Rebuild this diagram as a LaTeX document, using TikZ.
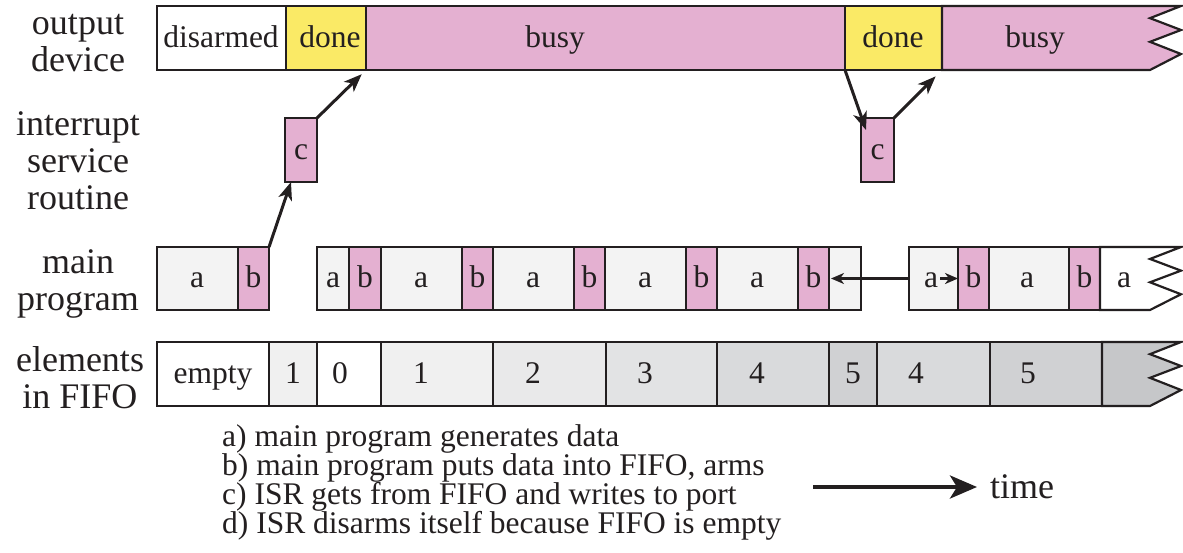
\documentclass[tikz,border=0pt]{standalone}
\usepackage{fontspec}
\setmainfont{Liberation Serif}
\usetikzlibrary{arrows.meta,calc}

\definecolor{ink}{RGB}{35,31,32}
\definecolor{busypink}{RGB}{228,176,209}
\definecolor{doneyellow}{RGB}{250,234,102}
\definecolor{runa}{RGB}{243,243,243}
\definecolor{fifoA}{RGB}{240,240,240}
\definecolor{fifoB}{RGB}{233,233,234}
\definecolor{fifoC}{RGB}{226,227,228}
\definecolor{fifoD}{RGB}{217,218,220}
\definecolor{fifoE}{RGB}{208,209,211}
\definecolor{fifoF}{RGB}{198,199,201}

% rectangular time-slot: name, x1, x2, y1, y2, fill, text, text x
\newcommand{\tcell}[8]{%
  \node[cell, fill=#6, minimum width={(#3-#2)*1pt}, minimum height={(#5-#4)*1pt}] (#1) at (#2,#4) {};
  \node[celltext] (#1-t) at (#8,{(#4+#5)/2}) {#7};}

% open-ended slot with a torn (zigzag) right edge: name, x1, y1, y2, fill, text, text x
\newcommand{\zcell}[7]{%
  \filldraw[edge, fill=#5] (#2,#3) -- (1181,#3) -- (1150,{#3+0.19*(#4-#3)})
    -- (1181,{#3+0.375*(#4-#3)}) -- (1150,{#3+0.56*(#4-#3)})
    -- (1181,{#3+0.75*(#4-#3)}) -- (1150,#4) -- (#2,#4) -- cycle;
  \node[celltext] (#1-t) at (#7,{(#3+#4)/2}) {#6};}

\begin{document}
\begin{tikzpicture}[x=1pt,y=-1pt,
  edge/.style={draw=ink, line width=2.2pt, line join=miter},
  cell/.style={edge, inner sep=0pt, outer sep=0pt, anchor=north west},
  celltext/.style={inner sep=0pt, text=ink, text height=22pt, text depth=4pt,
    font=\fontsize{31.5}{31.5}\selectfont},
  rowlabel/.style={align=center, inner sep=0pt, text=ink,
    font=\fontsize{36}{37}\selectfont},
  legend/.style={anchor=base west, inner sep=0pt, text=ink,
    font=\fontsize{31.5}{29}\selectfont},
  conn/.style={draw=ink, line width=3pt, -{Stealth[length=18pt,width=14pt,inset=5pt]}},
  thin conn/.style={draw=ink, line width=2.4pt, -{Stealth[length=13pt,width=11pt,inset=4pt]}}
]
\useasboundingbox (0,0) rectangle (1183,552);

% row labels
\node[rowlabel] (l-out)  at (78,43)    {output\\device};
\node[rowlabel] (l-isr)  at (78,161)   {interrupt\\service\\routine};
\node[rowlabel] (l-main) at (78,284)   {main\\program};
\node[rowlabel] (l-fifo) at (80,378)   {elements\\in FIFO};

% output device
\tcell{dis}{157}{286}{6}{70}{white}{disarmed}{221}
\tcell{done1}{286}{366}{6}{70}{doneyellow}{done}{330}
\tcell{busy1}{366}{845}{6}{70}{busypink}{busy}{555}
\tcell{done2}{845}{942}{6}{70}{doneyellow}{done}{893}
\zcell{busy2}{942}{6}{70}{busypink}{busy}{1035}

% interrupt service routine
\tcell{c1}{285}{317}{118}{182}{busypink}{c}{301}
\tcell{c2}{861}{894}{118}{182}{busypink}{c}{877.5}

% main program
\tcell{a1}{157}{238}{247}{310}{runa}{a}{197}
\tcell{b1}{238}{269}{247}{310}{busypink}{b}{253.5}
\tcell{a2}{317}{349}{247}{310}{runa}{a}{333}
\tcell{b2}{349}{381}{247}{310}{busypink}{b}{365}
\tcell{a3}{381}{462}{247}{310}{runa}{a}{421}
\tcell{b3}{462}{493}{247}{310}{busypink}{b}{477.5}
\tcell{a4}{493}{574}{247}{310}{runa}{a}{533}
\tcell{b4}{574}{605}{247}{310}{busypink}{b}{589.5}
\tcell{a5}{605}{686}{247}{310}{runa}{a}{645}
\tcell{b5}{686}{717}{247}{310}{busypink}{b}{701.5}
\tcell{a6}{717}{798}{247}{310}{runa}{a}{757}
\tcell{b6}{798}{829}{247}{310}{busypink}{b}{813.5}
\tcell{a7}{829}{861}{247}{310}{runa}{}{845}
\tcell{a8}{909}{958}{247}{310}{runa}{a}{931}
\tcell{b7}{958}{989}{247}{310}{busypink}{b}{973.5}
\tcell{a9}{989}{1069}{247}{310}{runa}{a}{1027}
\tcell{b8}{1069}{1100}{247}{310}{busypink}{b}{1084.5}
\zcell{a10}{1100}{247}{310}{white}{a}{1124}

% elements in FIFO
\tcell{f1}{157}{269}{342}{406}{white}{empty}{213}
\tcell{f2}{269}{317}{342}{406}{fifoA}{1}{293}
\tcell{f3}{317}{381}{342}{406}{white}{0}{340}
\tcell{f4}{381}{493}{342}{406}{fifoA}{1}{421}
\tcell{f5}{493}{606}{342}{406}{fifoB}{2}{533}
\tcell{f6}{606}{717}{342}{406}{fifoC}{3}{645}
\tcell{f7}{717}{829}{342}{406}{fifoD}{4}{757}
\tcell{f8}{829}{877}{342}{406}{fifoE}{5}{853}
\tcell{f9}{877}{990}{342}{406}{fifoD}{4}{916}
\tcell{f10}{990}{1102}{342}{406}{fifoE}{5}{1028}
\zcell{f11}{1102}{342}{406}{fifoF}{}{1120}

% interrupts and returns
\draw[conn] (b1.north east) -- ([xshift=-10pt]c1.south);
\draw[conn, shorten >=6pt] (c1.north east) -- (busy1.south west);
\draw[conn] (done2.south west) -- ($(c2.north west)+(5,12)$);
\draw[conn, shorten >=9pt] (c2.north east) -- (done2.south east);

% main program waits while the FIFO is full
\draw[thin conn, shorten >=2pt] (a8.west) -- (b6.east);
\draw[thin conn] ([xshift=-18pt]b7.west) -- (b7.west);

% legend
\node[legend] (leg-a) at (222,446) {a) main program generates data};
\node[legend] (leg-b) at (222,475) {b) main program puts data into FIFO, arms};
\node[legend] (leg-c) at (222,504) {c) ISR gets from FIFO and writes to port};
\node[legend] (leg-d) at (222,533) {d) ISR disarms itself because FIFO is empty};

% time axis
\coordinate (t-start) at (813,487);
\node[anchor=base west, inner sep=0pt, text=ink, font=\fontsize{36}{36}\selectfont] (time) at (990,498) {time};
\draw[draw=ink, line width=4pt, -{Stealth[length=27pt,width=23pt,inset=7pt]}, shorten >=13pt] (t-start) -- (t-start -| time.west);
\end{tikzpicture}
\end{document}
